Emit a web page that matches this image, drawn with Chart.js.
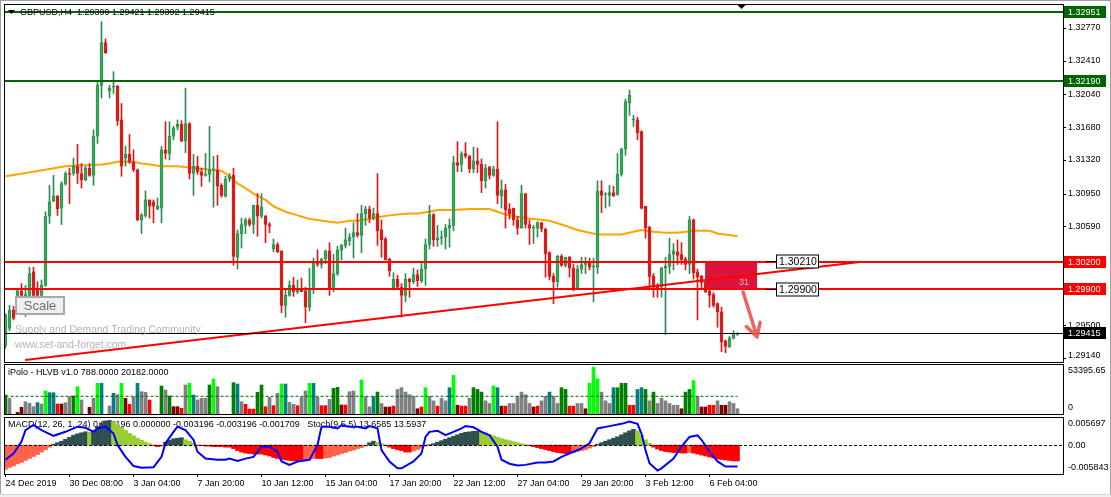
<!DOCTYPE html>
<html>
<head>
<meta charset="utf-8">
<title>GBPUSD H4</title>
<script src="https://cdn.jsdelivr.net/npm/chart.js@4.4.1/dist/chart.umd.min.js"></script>
<style>
  html, body { margin: 0; padding: 0; background: #fff; }
  #wrap { position: relative; width: 1111px; height: 497px; overflow: hidden; background: #fff; }
  #wrap canvas { position: absolute; left: 0; }
  #edge { position: absolute; left: 0; top: 0; width: 1109px; height: 494px; border: 1px solid #a0a0a0; border-bottom: none; pointer-events: none; }
  #foot { position: absolute; left: 0; top: 494px; width: 1111px; height: 3px; background: #f0f0f0; border-top: 1px solid #d4d4d4; }
</style>
</head>
<body>
<div id="wrap">
  <canvas id="main" width="1111" height="364" style="top:0"></canvas>
  <canvas id="vol" width="1111" height="53" style="top:363px"></canvas>
  <canvas id="macd" width="1111" height="81" style="top:416px"></canvas>
  <div id="edge"></div>
  <div id="foot"></div>
</div>
<script>
// ---- candles (H4, oldest first) ----
const opens = [
  1.2928,1.2947,1.2967,1.2983,1.2988,1.2982,1.2983,1.3009,1.2991,1.2983,
  1.2994,1.3070,1.3087,1.3092,1.3079,1.3106,1.3117,1.3117,1.3125,1.3117,
  1.3110,1.3123,1.3115,1.3158,1.3214,1.3261,1.3208,1.3212,1.3213,1.3176,
  1.3134,1.3138,1.3130,1.3121,1.3066,1.3071,1.3088,1.3086,1.3078,1.3079,
  1.3143,1.3139,1.3158,1.3168,1.3171,1.3153,1.3172,1.3117,1.3125,1.3119,
  1.3115,1.3116,1.3121,1.3121,1.3104,1.3092,1.3111,1.3115,1.3025,1.3051,
  1.3060,1.3066,1.3061,1.3082,1.3070,1.3070,1.3061,1.3034,1.3039,1.3032,
  1.2972,1.2983,1.2994,1.2987,1.2990,1.2988,1.2970,1.2989,1.3020,1.3017,
  1.3023,1.3032,1.2990,1.3007,1.3033,1.3038,1.3043,1.3047,1.3052,1.3049,
  1.3073,1.3078,1.3068,1.3073,1.3055,1.3045,1.3023,1.2991,1.3001,1.2992,
  1.2983,1.3001,1.2998,1.3006,1.2999,1.3012,1.3039,1.3072,1.3044,1.3046,
  1.3047,1.3057,1.3060,1.3129,1.3127,1.3139,1.3136,1.3122,1.3131,1.3127,
  1.3109,1.3124,1.3115,1.3122,1.3092,1.3099,1.3078,1.3079,1.3066,1.3057,
  1.3095,1.3061,1.3057,1.3057,1.3063,1.3056,1.3030,1.3004,1.2998,1.3026,
  1.3016,1.3025,1.3013,1.2991,1.3012,1.3017,1.3019,1.3014,1.3014,1.3098,
  1.3094,1.3093,1.3096,1.3094,1.3116,1.3144,1.3195,1.3176,1.3176,1.3163,
  1.3081,1.3058,1.3004,1.2994,1.2992,1.3013,1.3015,1.3028,1.3031,1.3028,
  1.3023,1.3017,1.3066,1.3009,1.3004,1.2998,1.2988,1.2984,1.2974,1.2965,
  1.2933,1.2926,1.2936,1.2940
];
const highs = [
  1.2963,1.2972,1.2971,1.2991,1.2996,1.2994,1.3014,1.3014,1.2998,1.3000,
  1.3075,1.3104,1.3115,1.3093,1.3108,1.3119,1.3123,1.3134,1.3149,1.3128,
  1.3125,1.3128,1.3165,1.3218,1.3284,1.3265,1.3214,1.3229,1.3214,1.3194,
  1.3147,1.3160,1.3143,1.3122,1.3073,1.3098,1.3088,1.3088,1.3090,1.3147,
  1.3174,1.3174,1.3169,1.3176,1.3175,1.3211,1.3173,1.3138,1.3136,1.3123,
  1.3139,1.3169,1.3136,1.3137,1.3106,1.3114,1.3117,1.3123,1.3055,1.3068,
  1.3068,1.3068,1.3082,1.3095,1.3095,1.3071,1.3063,1.3045,1.3041,1.3032,
  1.2989,1.2999,1.3003,1.3000,1.3002,1.2992,1.3013,1.3024,1.3033,1.3024,
  1.3033,1.3041,1.3028,1.3037,1.3039,1.3057,1.3051,1.3063,1.3073,1.3082,
  1.3081,1.3081,1.3079,1.3117,1.3066,1.3047,1.3024,1.3008,1.3005,1.2996,
  1.3007,1.3002,1.3013,1.3011,1.3019,1.3045,1.3082,1.3073,1.3060,1.3054,
  1.3061,1.3067,1.3136,1.3152,1.3141,1.3151,1.3137,1.3146,1.3145,1.3133,
  1.3127,1.3125,1.3125,1.3174,1.3110,1.3105,1.3084,1.3079,1.3070,1.3104,
  1.3095,1.3066,1.3060,1.3064,1.3063,1.3057,1.3031,1.3007,1.3027,1.3028,
  1.3025,1.3026,1.3017,1.3016,1.3025,1.3025,1.3024,1.3024,1.3109,1.3109,
  1.3096,1.3104,1.3103,1.3139,1.3145,1.3199,1.3209,1.3181,1.3179,1.3164,
  1.3081,1.3059,1.3007,1.2996,1.3014,1.3025,1.3046,1.3040,1.3044,1.3041,
  1.3025,1.3070,1.3067,1.3012,1.3005,1.3000,1.2990,1.2986,1.2975,1.2970,
  1.2934,1.2938,1.2944,1.2942
];
const lows = [
  1.2925,1.2944,1.2956,1.2981,1.2980,1.2960,1.2981,1.2981,1.2976,1.2981,
  1.2993,1.3062,1.3086,1.3071,1.3061,1.3104,1.3084,1.3115,1.3106,1.3101,
  1.3109,1.3114,1.3104,1.3150,1.3200,1.3249,1.3200,1.3205,1.3170,1.3114,
  1.3125,1.3128,1.3119,1.3065,1.3051,1.3069,1.3068,1.3063,1.3077,1.3063,
  1.3133,1.3132,1.3154,1.3165,1.3152,1.3140,1.3111,1.3093,1.3116,1.3103,
  1.3114,1.3108,1.3080,1.3082,1.3091,1.3091,1.3108,1.3016,1.3012,1.3035,
  1.3051,1.3059,1.3051,1.3048,1.3068,1.3041,1.3052,1.3031,1.3030,1.2964,
  1.2959,1.2982,1.2982,1.2985,1.2987,1.2953,1.2966,1.2985,1.3015,1.3013,
  1.3018,1.2983,1.2987,1.3005,1.3022,1.3035,1.3038,1.3024,1.3047,1.3030,
  1.3060,1.3063,1.3066,1.3038,1.3025,1.3022,1.3004,1.2989,1.2991,1.2959,
  1.2976,1.2981,1.2996,1.2993,1.2997,1.2994,1.3034,1.3037,1.3037,1.3039,
  1.3034,1.3036,1.3054,1.3119,1.3119,1.3134,1.3118,1.3118,1.3118,1.3096,
  1.3101,1.3111,1.3114,1.3084,1.3079,1.3057,1.3067,1.3060,1.3050,1.3057,
  1.3057,1.3039,1.3040,1.3047,1.3053,1.3003,1.3000,1.2974,1.2992,1.3015,
  1.3014,1.3003,1.2988,1.2990,1.3007,1.3007,1.3011,1.2976,1.3007,1.3074,
  1.3079,1.3081,1.3092,1.3093,1.3114,1.3137,1.3181,1.3169,1.3154,1.3078,
  1.3046,1.2989,1.2981,1.2981,1.2981,1.2940,1.3007,1.3011,1.3017,1.3017,
  1.3011,1.3007,1.3001,1.2956,1.2991,1.2986,1.2970,1.2970,1.2948,1.2921,
  1.2920,1.2926,1.2935,1.2939
];
const closes = [
  1.2961,1.2967,1.2958,1.2988,1.2983,1.2984,1.3007,1.2983,1.2983,1.2994,
  1.3070,1.3086,1.3092,1.3078,1.3106,1.3117,1.3116,1.3125,1.3117,1.3110,
  1.3123,1.3115,1.3158,1.3214,1.3261,1.3250,1.3211,1.3213,1.3175,1.3125,
  1.3138,1.3130,1.3121,1.3066,1.3071,1.3088,1.3081,1.3081,1.3081,1.3143,
  1.3139,1.3158,1.3167,1.3171,1.3153,1.3172,1.3117,1.3125,1.3119,1.3115,
  1.3116,1.3121,1.3121,1.3103,1.3093,1.3111,1.3114,1.3026,1.3051,1.3061,
  1.3066,1.3061,1.3082,1.3070,1.3080,1.3061,1.3059,1.3039,1.3031,1.2972,
  1.2983,1.2994,1.2987,1.2990,1.2987,1.2970,1.2989,1.3019,1.3017,1.3023,
  1.3032,1.2991,1.3007,1.3033,1.3038,1.3044,1.3047,1.3052,1.3049,1.3073,
  1.3078,1.3068,1.3073,1.3054,1.3044,1.3022,1.3010,1.3001,1.2992,1.2983,
  1.3001,1.2998,1.3006,1.2999,1.3012,1.3039,1.3072,1.3044,1.3046,1.3047,
  1.3057,1.3060,1.3129,1.3126,1.3139,1.3136,1.3122,1.3131,1.3127,1.3109,
  1.3123,1.3115,1.3122,1.3093,1.3099,1.3077,1.3073,1.3066,1.3057,1.3095,
  1.3061,1.3057,1.3057,1.3063,1.3056,1.3029,1.3004,1.2998,1.3026,1.3016,
  1.3025,1.3013,1.2991,1.3012,1.3017,1.3019,1.3014,1.3015,1.3098,1.3093,
  1.3094,1.3096,1.3092,1.3116,1.3144,1.3196,1.3203,1.3176,1.3162,1.3079,
  1.3057,1.3004,1.2992,1.2990,1.3013,1.3015,1.3028,1.3032,1.3027,1.3022,
  1.3017,1.3066,1.3008,1.3003,1.2997,1.2987,1.2983,1.2972,1.2965,1.2932,
  1.2927,1.2936,1.2941,1.29415
];

// moving average (orange), read at these bars
const maIdx  = [0,7,11,15,19,24,26,28,32,34,36,39,43,47,52,54,56,58,60,62,65,67,70,73,76,78,81,83,86,88,
                91,93,96,98,101,103,106,108,112,116,121,123,125,127,130,132,136,139,141,143,146,148,154,157,159,162,165,168,172,176,178,183];
const maVals = [1.3114,1.3119,1.3122,1.3125,1.3126,1.3127,1.3128,1.3130,1.3130,1.3128,1.3127,1.3125,1.3125,1.3123,1.3121,1.3120,1.3114,1.3106,1.3101,1.3095,
                1.3088,1.3081,1.3075,1.3071,1.3067,1.3066,1.3064,1.3063,1.3065,1.3065,1.3067,1.3069,1.3071,1.3072,1.3073,1.3073,1.3075,1.3077,1.3077,1.3078,
                1.3078,1.3075,1.3072,1.3070,1.3068,1.3067,1.3065,1.3061,1.3058,1.3055,1.3052,1.3050,1.3050,1.3053,1.3055,1.3053,1.3052,1.3052,1.3054,1.3054,
                1.3051,1.3048];

// objects on the price chart
const greenLevels = [1.32951, 1.32190];
const redLevels   = [1.30200, 1.29900];
const bidPrice    = 1.29415;
const trendFrom = { x: 4.9,   y: 1.2912 };
const trendTo   = { x: 214.1, y: 1.3020 };
const zoneFrom = 174.9, zoneTo = 187.9, zoneHigh = 1.30200, zoneLow = 1.29900, zoneText = '31';
const arrowFrom = { x: 184.4, y: 1.29868 };
const arrowTo   = { x: 187.9, y: 1.29373 };
const priceLabelAt = 190.1;
const priceLabels = [1.30210, 1.29900];
const mainTicks = [1.32770, 1.32410, 1.32040, 1.31680, 1.31320, 1.30950, 1.30590, 1.29860, 1.29500, 1.29140];
const titleText = 'GBPUSD,H4  1.29399 1.29421 1.29392 1.29415';

// HLVB volume pane
const volTypes = [
  'dg','g','n','dr','dr','g','g','g','t','g',
  'l','t','t','r','dr','g','g','dg','l','g',
  'n','dr','g','l','t','n','g','t','g','l',
  'dr','r','g','t','g','g','r','n','n','dg',
  'g','dg','dr','dr','r','g','l','t','g','g',
  'g','dg','l','g','n','n','n','dg','t','g',
  'r','r','r','dg','dg','r','g','r','g','l',
  't','g','g','r','g','g','l','t','g','r',
  'r','g','dg','dg','dr','r','g','g','n','l',
  'g','g','t','dg','g','dr','dr','r','g','g',
  'g','g','g','dr','r','l','g','g','r','g',
  'g','t','l','dr','r','r','g','dg','dg','dg',
  'g','g','l','t','dr','r','g','g','g','g',
  'g','g','dr','r','g','g','t','g','g','dg',
  'dg','r','r','g','g','dr','l','l','l','g',
  'g','g','t','dg','dg','dg','r','r','t','t',
  'dg','g','dg','g','g','g','g','g','g','dr',
  'dg','dg','l','g','dr','dr','r','r','g','dr',
  'dr','g','g','g'
];
const volValues = [
  21660,17860,0,1900,7600,14060,12160,8360,12920,11400,
  26220,24320,24320,11400,11400,12920,19760,20520,31160,15960,
  0,7600,17860,34960,34960,0,9120,23560,22040,34960,
  17860,11020,19760,34960,25460,24700,15960,0,0,31920,
  27360,20520,8360,8360,6460,33060,34960,21660,15960,17860,
  17860,33060,39900,31160,0,0,0,35720,34200,14060,
  11020,5700,5700,24700,33060,8360,19000,9500,23560,34200,
  34200,13300,11020,9500,19000,26220,34960,34960,19000,9500,
  9500,16720,29260,30400,10260,10260,25460,26220,0,38760,
  19760,8360,20000,25000,12000,8000,8000,9000,28000,30000,
  25000,22000,20000,6000,8000,30000,20000,15000,9000,18000,
  15000,30000,44000,10000,9000,9000,18000,30000,28000,25000,
  15000,12000,32000,30000,9000,9000,12000,12000,20000,25000,
  22000,12000,8000,9000,15000,20000,25000,20000,12000,30000,
  28000,9000,9000,12000,12000,6000,35000,53390,40000,25000,
  15000,12000,30000,30000,35000,35000,10000,10000,28000,30000,
  28000,15000,25000,12000,18000,15000,12000,10000,10000,6000,
  25000,28000,38000,20000,8000,8000,10000,10000,15000,10000,
  10000,14000,12000,6000
];
const volLevel = 20182;
const volMax = 53395.65;
const volTitle = 'iPolo - HLVB v1.0 788.0000 20182.0000';

// MACD histogram + stochastic
const macdVals = [
  -0.0049,-0.0045,-0.0042,-0.0038,-0.0035,-0.0031,-0.0027,-0.0023,-0.0019,-0.0014,-0.0009,-0.0004,
  0.0002,0.0005,0.0008,0.0012,0.0016,0.0020,0.0023,0.0025,0.0027,
  0.0026,
  0.0030,0.0038,0.0045,0.0049,0.0050,
  0.0048,0.0042,0.0036,0.0030,0.0024,0.0019,0.0014,0.0010,0.0006,0.0003,
  -0.0001,-0.0003,-0.0002,
  0.0006,0.0010,0.0013,0.0014,0.0015,
  0.0011,0.0008,0.0004,
  -0.0001,-0.0001,-0.0002,-0.0002,-0.0003,-0.0003,-0.0003,-0.0004,-0.0004,
  -0.0007,-0.0011,-0.0014,-0.0016,-0.0017,-0.0018,-0.0018,
  -0.0018,-0.0020,-0.0022,-0.0025,-0.0027,-0.0029,-0.0030,-0.0031,-0.0032,-0.0032,-0.0032,
  -0.0030,-0.0029,-0.0027,-0.0027,-0.0027,-0.0026,
  -0.0025,-0.0022,-0.0020,-0.0017,-0.0015,-0.0012,-0.0010,-0.0007,-0.0005,-0.0002,
  0.0005,0.0008,0.0006,0.0003,
  -0.0001,-0.0004,-0.0007,-0.0009,-0.0011,-0.0014,-0.0014,-0.0012,-0.0009,-0.0006,-0.0002,
  0.0001,0.0003,0.0006,0.0009,0.0012,0.0015,0.0018,0.0021,0.0024,0.0026,0.0027,0.0028,0.0028,
  0.0027,0.0025,0.0022,0.0019,0.0016,0.0013,0.0011,0.0009,0.0007,0.0005,0.0003,0.0001,
  -0.0001,-0.0003,-0.0005,-0.0007,-0.0009,-0.0011,-0.0013,-0.0015,-0.0016,-0.0017,
  -0.0017,-0.0015,-0.0013,-0.0011,-0.0009,-0.0006,-0.0003,
  0.0002,0.0005,0.0008,0.0011,0.0014,0.0017,0.0021,0.0025,0.0029,0.0032,
  0.0029,0.0020,0.0011,0.0004,
  -0.0004,-0.0008,-0.0011,-0.0013,-0.0014,-0.0015,-0.0015,-0.0016,
  -0.0016,-0.0015,
  -0.0016,-0.0018,-0.0020,-0.0022,-0.0024,-0.0026,-0.0028,-0.0029,-0.0030,-0.0031,-0.0032,-0.0032
];
const stochIdx  = [0,2,4,5,7,9,12,15,18,20,22,23,25,27,28,30,32,34,37,39,40,42,43,45,47,48,50,53,55,56,58,60,62,64,66,68,69,71,73,76,78,79,81,83,84,86,88,90,
                   91,93,94,96,98,99,102,104,105,106,108,110,112,114,115,117,119,121,123,124,126,128,130,133,135,137,139,142,144,146,148,151,154,156,158,159,160,161,163,164,167,169,171,173,174,176,178,180,183];
const stochVals = [25,36,57,77,86,77,67,74,83,81,74,80,83,71,51,30,14,11,12,30,54,74,83,77,60,39,27,25,25,27,23,27,30,48,48,39,22,16,22,25,51,83,83,80,86,83,83,80,
                   84,80,42,22,10,10,22,36,65,74,76,68,74,80,84,82,74,68,48,25,18,15,16,20,20,22,30,39,45,54,80,84,88,92,88,71,42,19,6,10,27,48,65,68,60,39,22,13,13];
const macdMax = 0.005697, macdMin = -0.005843;
const macdTicks  = [0.005697, 0, -0.005843];
const macdLabels = ['0.005697', '0.00', '-0.005843'];
const macdTitle = 'MACD(12, 26, 1, 24) 0.003196 0.000000 -0.003196 -0.003196 -0.001709   Stoch(9,5,5) 13.6585 13.5937';

// time axis
const xTickIdx = [0,16,32,48,64,80,96,112,128,144,160,176];
const xLabels = ['24 Dec 2019','30 Dec 08:00','3 Jan 04:00','7 Jan 20:00','10 Jan 12:00','15 Jan 04:00',
                 '17 Jan 20:00','22 Jan 12:00','27 Jan 04:00','29 Jan 20:00','3 Feb 12:00','6 Feb 04:00'];

const FONT = "'Liberation Sans', Arial, sans-serif";
const X_MIN = -0.375, X_MAX = 264.375;
Chart.defaults.font.family = FONT;

const VOL_COLORS = { g: '#808080', dr: '#800000', r: '#FF0000', l: '#00FF00', t: '#008080', dg: '#008000', n: 'rgba(0,0,0,0)' };
const BULL = '#35B04F', BULL_EDGE = '#2E8B57', BEAR = '#D81B1B';

function baseOptions(pad) {
  return {
    responsive: false, animation: false, devicePixelRatio: 1, events: [],
    layout: { padding: pad },
    plugins: { legend: { display: false }, tooltip: { enabled: false } }
  };
}
function hiddenX() {
  return { type: 'linear', min: X_MIN, max: X_MAX, offset: false, display: false, grid: { offset: false } };
}
function frame(chart) {
  const { ctx, chartArea: a } = chart;
  ctx.save();
  ctx.strokeStyle = '#000';
  ctx.lineWidth = 1;
  ctx.strokeRect(a.left + 0.5, a.top + 0.5, a.right - a.left, a.bottom - a.top);
  ctx.restore();
}
function rightLabels(chart, scale, vals, labels) {
  const { ctx, chartArea: a } = chart;
  ctx.save();
  ctx.font = '9px ' + FONT;
  ctx.fillStyle = '#000';
  ctx.textAlign = 'left';
  ctx.textBaseline = 'middle';
  vals.forEach((v, k) => {
    let py = scale.getPixelForValue(v);
    py = Math.min(Math.max(py, a.top + 7), a.bottom - 6);
    ctx.fillText(labels[k], a.right + 5, py);
  });
  ctx.restore();
}
function priceBox(chart, price, bg) {
  const { ctx, chartArea: a, scales: { y } } = chart;
  const py = Math.round(y.getPixelForValue(price));
  ctx.fillStyle = bg;
  ctx.fillRect(a.right + 1, py - 6, 42, 12);
  ctx.fillStyle = '#fff';
  ctx.font = '9px ' + FONT;
  ctx.textAlign = 'left';
  ctx.textBaseline = 'middle';
  ctx.fillText(price.toFixed(5), a.right + 5, py + 0.5);
}

// ---------- main price pane ----------
const mainOverlay = {
  id: 'mainOverlay',
  beforeDatasetsDraw(chart) {
    const { ctx, scales: { x, y } } = chart;
    const x1 = x.getPixelForValue(zoneFrom), x2 = x.getPixelForValue(zoneTo);
    const y1 = y.getPixelForValue(zoneHigh), y2 = y.getPixelForValue(zoneLow);
    ctx.save();
    ctx.fillStyle = '#DC143C';
    ctx.fillRect(x1, y1, x2 - x1, y2 - y1);
    ctx.fillStyle = '#FFB6C1';
    ctx.font = '9px ' + FONT;
    ctx.textAlign = 'right';
    ctx.textBaseline = 'middle';
    ctx.fillText(zoneText, x2 - 8, y2 - 7);
    ctx.restore();
  },
  afterDatasetsDraw(chart) {
    const { ctx, chartArea: a, scales: { x, y } } = chart;
    ctx.save();
    // horizontal levels
    ctx.lineWidth = 2;
    greenLevels.forEach(p => {
      const py = Math.round(y.getPixelForValue(p));
      ctx.strokeStyle = '#006400';
      ctx.beginPath(); ctx.moveTo(a.left, py); ctx.lineTo(a.right, py); ctx.stroke();
    });
    redLevels.forEach(p => {
      const py = Math.round(y.getPixelForValue(p));
      ctx.strokeStyle = '#FF0000';
      ctx.beginPath(); ctx.moveTo(a.left, py); ctx.lineTo(a.right, py); ctx.stroke();
    });
    ctx.lineWidth = 1;
    ctx.strokeStyle = '#000';
    const by = Math.round(y.getPixelForValue(bidPrice)) + 0.5;
    ctx.beginPath(); ctx.moveTo(a.left, by); ctx.lineTo(a.right, by); ctx.stroke();

    // price label objects
    const lx = Math.round(x.getPixelForValue(priceLabelAt));
    ctx.font = '10.5px ' + FONT;
    ctx.textAlign = 'left';
    ctx.textBaseline = 'middle';
    priceLabels.forEach(p => {
      const py = Math.round(y.getPixelForValue(p)) + 0.5;
      ctx.strokeStyle = '#000';
      ctx.beginPath(); ctx.moveTo(lx, py); ctx.lineTo(lx + 11, py); ctx.stroke();
      ctx.fillStyle = '#fff';
      ctx.fillRect(lx + 11, py - 6.5, 41, 13);
      ctx.strokeRect(lx + 10.5, py - 6.5, 42, 13);
      ctx.fillStyle = '#000';
      ctx.fillText(p.toFixed(5), lx + 13, py + 0.5);
    });

    // arrow
    const ax1 = x.getPixelForValue(arrowFrom.x), ay1 = y.getPixelForValue(arrowFrom.y);
    const ax2 = x.getPixelForValue(arrowTo.x), ay2 = y.getPixelForValue(arrowTo.y);
    const ang = Math.atan2(ay2 - ay1, ax2 - ax1);
    ctx.strokeStyle = 'rgba(234,84,74,0.9)';
    ctx.lineWidth = 3.5;
    ctx.lineCap = 'round';
    ctx.beginPath(); ctx.moveTo(ax1, ay1); ctx.lineTo(ax2, ay2);
    [0.5, -0.5].forEach(d => {
      ctx.moveTo(ax2, ay2);
      ctx.lineTo(ax2 - 15 * Math.cos(ang + d), ay2 - 15 * Math.sin(ang + d));
    });
    ctx.stroke();
    ctx.lineCap = 'butt';

    // watermark + scale button
    ctx.fillStyle = '#B4B4B4';
    ctx.font = '10.3px ' + FONT;
    ctx.textAlign = 'left';
    ctx.fillText('Supply and Demand Trading Community', a.left + 11, 330);
    ctx.fillText('www.set-and-forget.com', a.left + 11, 345);
    ctx.fillStyle = '#EFEFEF';
    ctx.fillRect(15, 296, 50, 19);
    ctx.strokeStyle = '#A8A8A8';
    ctx.lineWidth = 2;
    ctx.strokeRect(16, 297, 48, 17);
    ctx.fillStyle = '#707070';
    ctx.font = '13px ' + FONT;
    ctx.textAlign = 'center';
    ctx.fillText('Scale', 40, 306);

    // title
    ctx.fillStyle = '#000';
    ctx.beginPath(); ctx.moveTo(8, 10); ctx.lineTo(15, 10); ctx.lineTo(11.5, 14); ctx.closePath(); ctx.fill();
    ctx.font = '9px ' + FONT;
    ctx.textAlign = 'left';
    ctx.fillText(titleText, 20, 13);

    // chart shift marker
    const sx = x.getPixelForValue(closes.length);
    ctx.beginPath(); ctx.moveTo(sx - 4, a.top + 1); ctx.lineTo(sx + 4, a.top + 1); ctx.lineTo(sx, a.top + 5); ctx.closePath(); ctx.fill();
    ctx.restore();

    // right price axis
    ctx.save();
    ctx.fillStyle = '#000';
    mainTicks.forEach(v => ctx.fillRect(a.right, Math.round(y.getPixelForValue(v)), 3, 1));
    rightLabels(chart, y, mainTicks, mainTicks.map(v => v.toFixed(5)));
    greenLevels.forEach(p => priceBox(chart, p, '#006400'));
    redLevels.forEach(p => priceBox(chart, p, '#FF0000'));
    priceBox(chart, bidPrice, '#000000');
    ctx.restore();
    frame(chart);
  }
};

new Chart(document.getElementById('main'), {
  type: 'bar',
  data: {
    datasets: [
      {
        type: 'line', label: 'MA', order: 4,
        data: maIdx.map((v, k) => ({ x: v, y: maVals[k] })),
        borderColor: '#FFA500', borderWidth: 2, pointRadius: 0, tension: 0
      },
      {
        label: 'wicks', order: 3, grouped: false, barThickness: 1,
        data: closes.map((c, i) => ({ x: i, y: [lows[i], highs[i]] })),
        backgroundColor: ctx => closes[ctx.dataIndex] >= opens[ctx.dataIndex] ? BULL_EDGE : BEAR,
        borderWidth: 0, minBarLength: 1
      },
      {
        label: 'bodies', order: 2, grouped: false, barThickness: 3,
        data: closes.map((c, i) => ({ x: i, y: [opens[i], c] })),
        backgroundColor: ctx => closes[ctx.dataIndex] >= opens[ctx.dataIndex] ? BULL : BEAR,
        borderColor: ctx => closes[ctx.dataIndex] >= opens[ctx.dataIndex] ? BULL_EDGE : BEAR,
        borderWidth: 1, borderSkipped: false, minBarLength: 1
      },
      {
        type: 'line', label: 'trend', order: 1,
        data: [trendFrom, trendTo],
        borderColor: '#FF0000', borderWidth: 2, pointRadius: 0
      }
    ]
  },
  options: Object.assign(baseOptions({ left: 4, right: 48, top: 4, bottom: 2 }), {
    scales: {
      x: hiddenX(),
      y: { min: 1.29098, max: 1.33034, display: false }
    }
  }),
  plugins: [mainOverlay]
});

// ---------- volume pane ----------
const volOverlay = {
  id: 'volOverlay',
  afterDatasetsDraw(chart) {
    const { ctx } = chart;
    ctx.save();
    ctx.fillStyle = '#000';
    ctx.font = '9px ' + FONT;
    ctx.textAlign = 'left';
    ctx.textBaseline = 'middle';
    ctx.fillText(volTitle, 8, chart.chartArea.top + 9);
    ctx.restore();
    rightLabels(chart, chart.scales.y, [volMax, 0], [volMax.toFixed(2), '0']);
    frame(chart);
  }
};

new Chart(document.getElementById('vol'), {
  type: 'bar',
  data: {
    datasets: [
      {
        type: 'line', label: 'level', order: 1,
        data: [{ x: 0, y: volLevel }, { x: closes.length - 1, y: volLevel }],
        borderColor: '#006400', borderWidth: 1, borderDash: [3, 2], pointRadius: 0
      },
      {
        label: 'HLVB', order: 2, barThickness: 3,
        data: volValues.map((v, i) => ({ x: i, y: v })),
        backgroundColor: ctx => VOL_COLORS[volTypes[ctx.dataIndex]]
      }
    ]
  },
  options: Object.assign(baseOptions({ left: 4, right: 48, top: 1, bottom: 2 }), {
    scales: {
      x: hiddenX(),
      y: { min: 0, max: 57000, display: false }
    }
  }),
  plugins: [volOverlay]
});

// ---------- MACD / Stoch pane ----------
function macdColor(ctx) {
  const i = ctx.dataIndex, v = macdVals[i];
  const prev = i > 0 ? macdVals[i - 1] : v;
  if (v >= 0) return v >= prev ? '#2F4F4F' : '#9ACD32';
  return (i > 0 && v <= prev) ? '#FF0000' : '#FF6347';
}

const macdOverlay = {
  id: 'macdOverlay',
  beforeDatasetsDraw(chart) {
    const { ctx } = chart;
    ctx.save();
    ctx.fillStyle = '#000';
    ctx.font = '9px ' + FONT;
    ctx.textAlign = 'left';
    ctx.textBaseline = 'middle';
    ctx.fillText(macdTitle, 8, chart.chartArea.top + 8);
    ctx.restore();
  },
  afterDatasetsDraw(chart) {
    const { ctx, chartArea: a, scales: { y } } = chart;
    ctx.save();
    const zy = Math.round(y.getPixelForValue(0)) + 0.5;
    ctx.strokeStyle = '#000';
    ctx.lineWidth = 1;
    ctx.setLineDash([3, 2]);
    ctx.beginPath(); ctx.moveTo(a.left, zy); ctx.lineTo(a.right, zy); ctx.stroke();
    ctx.restore();
    rightLabels(chart, y, macdTicks, macdLabels);
    frame(chart);
  }
};

new Chart(document.getElementById('macd'), {
  type: 'bar',
  data: {
    datasets: [
      {
        type: 'line', label: 'Stoch', order: 1, yAxisID: 'ys',
        data: stochIdx.map((v, k) => ({ x: v, y: stochVals[k] })),
        borderColor: '#0000FF', borderWidth: 2, pointRadius: 0, tension: 0
      },
      {
        label: 'MACD', order: 2, barThickness: 4,
        data: macdVals.map((v, i) => ({ x: i, y: v })),
        backgroundColor: macdColor
      }
    ]
  },
  options: Object.assign(baseOptions({ left: 4, right: 48, top: 1, bottom: 7 }), {
    scales: {
      x: {
        type: 'linear', min: X_MIN, max: X_MAX, offset: false, position: 'bottom',
        afterBuildTicks: s => { s.ticks = xTickIdx.map(v => ({ value: v })); },
        afterFit: s => { s.height = 16; },
        grid: { drawOnChartArea: false, drawTicks: true, tickLength: 3, color: '#000', offset: false },
        border: { display: false },
        ticks: {
          align: 'start', autoSkip: false, maxRotation: 0, padding: 1, color: '#000',
          font: { family: FONT, size: 9 },
          callback: (v, k) => xLabels[k]
        }
      },
      y: { min: macdMin, max: macdMax, display: false },
      ys: { min: 0, max: 100, display: false }
    }
  }),
  plugins: [macdOverlay]
});
</script>
</body>
</html>
